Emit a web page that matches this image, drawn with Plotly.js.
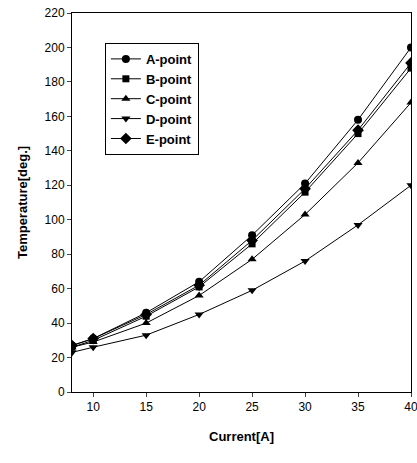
<!DOCTYPE html>
<html><head><meta charset="utf-8">
<script src="https://cdn.plot.ly/plotly-3.0.1.min.js"></script>
<style>html,body{margin:0;padding:0;background:#fff}</style>
</head><body>
<div id="chart" style="width:417px;height:463px"></div>
<script>
const current = [8, 10, 15, 20, 25, 30, 35, 40];
const aPoint = [27, 31, 46, 64, 91, 121, 158, 200];
const bPoint = [26, 30, 44, 61, 86, 116, 150, 188];
const cPoint = [26, 29, 40, 56, 77, 103, 133, 168];
const dPoint = [23, 26, 33, 45, 59, 76, 97, 120];
const ePoint = [27, 31, 45, 62, 88, 118, 152, 191];
const seriesNames = ['A-point', 'B-point', 'C-point', 'D-point', 'E-point'];
const symbols = ['circle', 'square', 'triangle-up', 'triangle-down', 'diamond'];
const sizes = [8, 7, 8, 8, 9];
const all = [aPoint, bPoint, cPoint, dPoint, ePoint];

const traces = all.map((ys, i) => ({
  x: current, y: ys, name: seriesNames[i], type: 'scatter', mode: 'lines+markers',
  line: {color: '#000', width: 1},
  marker: {symbol: symbols[i], size: sizes[i], color: '#000'}
}));

const layout = {
  width: 417, height: 463,
  margin: {l: 72, r: 6, t: 13, b: 71},
  paper_bgcolor: '#fff', plot_bgcolor: '#fff',
  showlegend: true,
  legend: {x: 0.097, y: 0.921, xanchor: 'left', yanchor: 'top', bordercolor: '#000', borderwidth: 1,
    bgcolor: '#fff', font: {family: 'Liberation Sans, Arial', size: 13, color: '#000', weight: 'bold'},
    tracegroupgap: 0, entrywidth: 100},
  xaxis: {range: [8, 40], tickvals: [10, 15, 20, 25, 30, 35, 40], ticks: 'outside', ticklen: 4,
    ticklabeloverflow: 'allow',
    showgrid: false, zeroline: false, showline: true, mirror: true, linecolor: '#000', linewidth: 1,
    tickfont: {family: 'Liberation Sans Narrow, Arial Narrow, Liberation Sans', size: 12, color: '#000'},
    title: {text: 'Current[A]', font: {family: 'Liberation Sans, Arial', size: 13, color: '#000', weight: 'bold'}, standoff: 18}},
  yaxis: {range: [0, 220], dtick: 20, ticks: 'outside', ticklen: 4,
    showgrid: false, zeroline: false, showline: true, mirror: true, linecolor: '#000', linewidth: 1,
    tickfont: {family: 'Liberation Sans Narrow, Arial Narrow, Liberation Sans', size: 12, color: '#000'},
    title: {text: 'Temperature[deg.]', font: {family: 'Liberation Sans, Arial', size: 13, color: '#000', weight: 'bold'}, standoff: 14}}
};
Plotly.newPlot('chart', traces, layout, {displayModeBar: false, staticPlot: true});
</script>
</body></html>
